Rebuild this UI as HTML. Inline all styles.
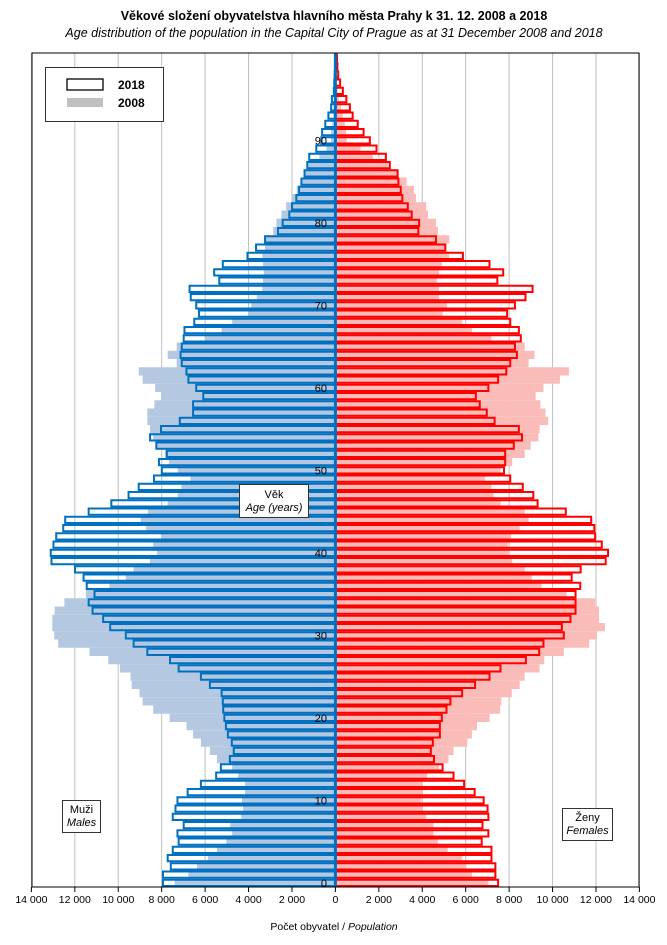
<!DOCTYPE html><html><head><meta charset="utf-8"><style>body{margin:0;background:#fff}svg{display:block;font-family:"Liberation Sans",sans-serif}</style></head><body>
<svg id="s" width="667" height="945" xmlns="http://www.w3.org/2000/svg">
<text x="334" y="20" font-size="12.5" font-weight="bold" text-anchor="middle">Věkové složení obyvatelstva  hlavního města Prahy k 31. 12. 2008 a 2018</text>
<text x="334" y="37" font-size="12.5" font-style="italic" text-anchor="middle">Age distribution of the population  in the Capital City of Prague as at 31 December 2008 and 2018</text>
<g id="g"></g>
</svg>
<script>
var D=[[340,370,1197,1172],[340,405,1190,1130],[360,427,1190,1115],[352,455,1180,1105],[365,478,1180,1068],[380,502,1155,1043],[377,517,1172,1032],[393,512,1157,1032],[365,540,1172,1013],[372,545,1170,1005],[377,542,1160,1000],[403,550,1137,1005],[437,550,1110,1003],[476,532,1083,1015],[488,517,1055,1045],[511,478,1033,1070],[521,460,1025,1083],[516,437,1030,1118],[506,417,1048,1130],[501,400,1048,1143],[497,357,1053,1175],[494,315,1065,1202],[493,288,1075,1205],[490,280,1105,1232],[460,260,1138,1252],[437,257,1175,1265],[380,230,1203,1303],[358,200,1268,1315],[300,152,1302,1365],[265,72,1313,1430],[245,62,1365,1450],[205,57,1360,1470],[187,57,1382,1455],[160,63,1395,1455],[150,88,1395,1445],[165,143,1395,1372],[145,203,1407,1308],[137,245,1385,1283],[115,265,1408,1265],[55,307,1472,1233],[53,325,1478,1225],[60,315,1462,1222],[67,335,1445,1230],[85,297,1443,1252],[90,283,1435,1275],[150,302,1370,1265],[208,352,1298,1203],[252,378,1287,1185],[278,387,1260,1180],[317,410,1228,1163],[337,378,1212,1203],[330,355,1215,1233],[350,345,1215,1265],[323,323,1237,1280],[307,315,1258,1300],[335,307,1250,1303],[383,300,1188,1325],[417,300,1168,1318],[417,318,1150,1305],[443,335,1140,1293],[425,320,1172,1313],[405,288,1197,1355],[400,278,1218,1378],[388,375,1228,1275],[385,352,1245,1290],[388,375,1240,1265],[393,448,1255,1180],[395,490,1250,1130],[420,517,1228,1105],[432,558,1220,1055],[425,566,1240,1066],[411,580,1267,1046],[408,594,1285,1046],[484,596,1195,1040],[471,598,1210,1046],[493,596,1175,1053],[556,594,1107,1072],[578,601,1062,1060],[601,601,1038,1072],[634,622,993,1043],[646,630,995,1038],[663,643,976,1018],[670,655,966,1013],[681,669,952,987],[688,682,948,982],[694,694,942,963],[702,702,940,940],[709,712,920,915],[714,740,910,877],[732,758,886,845],[745,770,869,810],[747,770,853,808],[755,773,838,805],[763,776,825,800],[770,776,818,795],[772,778,809,790],[777,780,800,787],[778,781,793,784],[779,781,788,783],[780,781,786,782],[780,781,785,782]];
var C=335.4,k=1/2.557;function X(z){return 30+z*k}
var h='';
for(var i=-7;i<=7;i++){if(i==0)continue;var x=C+i*43.43;h+='<line x1="'+x+'" y1="53" x2="'+x+'" y2="887" stroke="#c0c0c0" stroke-width="1"/>';}
var H=8.25;
D.forEach(function(d,a){var y=887-H*(a+1);
h+='<rect x="'+X(d[1])+'" y="'+y+'" width="'+(C-X(d[1]))+'" height="'+H+'" fill="#b4c8e1"/>';
h+='<rect x="'+C+'" y="'+y+'" width="'+(X(d[3])-C)+'" height="'+H+'" fill="#f9bcb8"/>';});
D.forEach(function(d,a){var y=887-H*(a+1)+1;
h+='<rect x="'+X(d[0])+'" y="'+y+'" width="'+Math.max(0,C-X(d[0]))+'" height="'+(H-2)+'" fill="none" stroke="#0070c0" stroke-width="2"/>';
h+='<rect x="'+C+'" y="'+y+'" width="'+Math.max(0,X(d[2])-C)+'" height="'+(H-2)+'" fill="none" stroke="#ff0000" stroke-width="2"/>';});
h+='<line x1="'+C+'" y1="53" x2="'+C+'" y2="887" stroke="#0070c0" stroke-width="3"/>';
h+='<rect x="32" y="53" width="607" height="834" fill="none" stroke="#000" stroke-width="1"/>';
for(var a=0;a<=90;a+=10){h+='<text x="327" y="'+(887-H*(a+0.5)+4)+'" font-size="11" text-anchor="end">'+a+'</text>';}
for(var i=-7;i<=7;i++){var x=C+i*43.43;var v=Math.abs(i*2000);var t=v>=1000?(Math.floor(v/1000)+' '+('000'+(v%1000)).slice(-3)):''+v;
h+='<line x1="'+x+'" y1="887" x2="'+x+'" y2="892" stroke="#000"/><text x="'+x+'" y="903" font-size="10.5" text-anchor="middle">'+t+'</text>';}
h+='<text x="334" y="930" font-size="10.5" text-anchor="middle">Počet obyvatel / <tspan font-style="italic">Population</tspan></text>';
h+='<rect x="45.5" y="67.5" width="118" height="54" fill="#fff" stroke="#333"/><rect x="67" y="79" width="36" height="11" fill="#fff" stroke="#000" stroke-width="1.3"/><text x="118" y="89" font-size="12" font-weight="bold">2018</text><rect x="67" y="98" width="36" height="9" fill="#c0c0c0"/><text x="118" y="107" font-size="12" font-weight="bold">2008</text>';
h+='<rect x="239.5" y="484.5" width="69" height="33" fill="#fff" stroke="#333"/><text x="274" y="498" font-size="11" text-anchor="middle">Věk</text><text x="274" y="511" font-size="11" font-style="italic" text-anchor="middle">Age (years)</text>';
h+='<rect x="62.5" y="800.5" width="38" height="32" fill="#fff" stroke="#333"/><text x="81.5" y="813" font-size="11" text-anchor="middle">Muži</text><text x="81.5" y="826" font-size="11" font-style="italic" text-anchor="middle">Males</text>';
h+='<rect x="562.5" y="808.5" width="50" height="32" fill="#fff" stroke="#333"/><text x="587.5" y="821" font-size="11" text-anchor="middle">Ženy</text><text x="587.5" y="834" font-size="11" font-style="italic" text-anchor="middle">Females</text>';
document.getElementById('g').innerHTML=h;
</script></body></html>
